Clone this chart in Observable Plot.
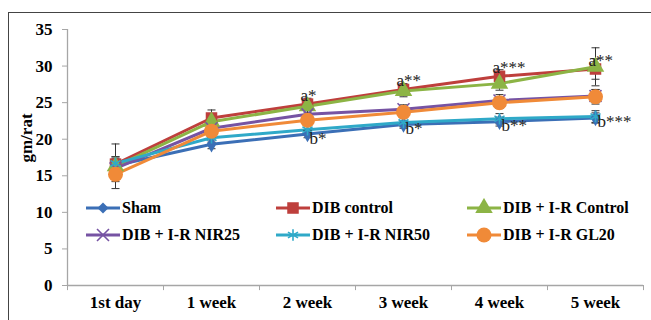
<!DOCTYPE html>
<html>
<head>
<meta charset="utf-8">
<script src="https://cdn.jsdelivr.net/npm/d3@7"></script>
<script src="https://cdn.jsdelivr.net/npm/@observablehq/plot@0.6"></script>
<style>
  body { margin: 0; background: #fff; }
  #wrap { position: relative; width: 651px; height: 320px; overflow: hidden; font-family: "Liberation Serif", "Times New Roman", serif; }
  #border { position: absolute; left: 8px; top: 12px; width: 700px; height: 400px; border-left: 1px solid #444; border-top: 1px solid #444; }
  .leg { position: absolute; display: flex; align-items: center; font-weight: bold; font-size: 16px; white-space: nowrap; }
  .leg svg { margin-right: 2px; }
</style>
</head>
<body>
<div id="wrap"><div id="border"></div></div>
<script>
const categories = ["1st day", "1 week", "2 week", "3 week", "4 week", "5 week"];
const seriesNames = ["Sham", "DIB control", "DIB + I-R Control", "DIB + I-R NIR25", "DIB + I-R NIR50", "DIB + I-R GL20"];
const sham        = [16.4, 19.3, 20.7, 22.0, 22.4, 22.9];
const dibControl  = [16.6, 22.9, 24.8, 26.8, 28.6, 29.6];
const dibIrControl= [16.3, 22.4, 24.5, 26.6, 27.6, 29.9];
const nir25       = [16.0, 21.5, 23.4, 24.1, 25.3, 25.9];
const nir50       = [16.7, 20.2, 21.3, 22.3, 22.8, 23.1];
const gl20        = [15.2, 21.1, 22.6, 23.7, 25.0, 25.8];
const shamErr        = [1.0, 0.6, 0.5, 0.5, 0.6, 0.7];
const dibControlErr  = [1.0, 1.1, 0.8, 0.8, 0.9, 1.4];
const dibIrControlErr= [3.05, 1.0, 0.8, 0.8, 0.9, 2.6];
const nir25Err       = [0.8, 0.7, 0.6, 0.6, 0.8, 0.9];
const nir50Err       = [0.9, 0.6, 0.6, 0.6, 0.7, 0.8];
const gl20Err        = [1.0, 0.8, 0.7, 0.6, 0.8, 1.0];
const annotA = [{i: 2, t: "a*"}, {i: 3, t: "a**"}, {i: 4, t: "a***"}, {i: 5, t: "a**"}];
const annotB = [{i: 2, t: "b*"}, {i: 3, t: "b*"}, {i: 4, t: "b**"}, {i: 5, t: "b***"}];
const yTicks = [0, 5, 10, 15, 20, 25, 30, 35];

const values = [sham, dibControl, dibIrControl, nir25, nir50, gl20];
const errors = [shamErr, dibControlErr, dibIrControlErr, nir25Err, nir50Err, gl20Err];
const colors = ["#3b6fb6", "#be3f3c", "#8cb445", "#7653a3", "#2fa9c8", "#f08a38"];
const symbols = ["diamond", "square", "triangle", "times", "asterisk", "circle"];
const radii = [5, 6.5, 6.5, 5.5, 5.5, 7.5];
const d3Sym = {diamond: d3.symbolDiamond2, square: d3.symbolSquare, triangle: d3.symbolTriangle, times: d3.symbolTimes, asterisk: d3.symbolAsterisk, circle: d3.symbolCircle};
const strokeSym = new Set(["times", "asterisk"]);

const font = '"Liberation Serif", "Times New Roman", serif';
const cap = { draw(ctx, size) { const w = Math.sqrt(size / Math.PI); ctx.moveTo(-w, 0); ctx.lineTo(w, 0); } };

const rows = values.map((vals, s) => vals.map((v, i) => ({s, i, v, e: errors[s][i]})));
const bounds = d3.range(categories.length + 1).map(k => k - 0.5);

const marks = [
  Plot.ruleY([0], {stroke: "#a6a6a6", strokeWidth: 1.3}),
  Plot.ruleX([-0.5], {stroke: "#a6a6a6", strokeWidth: 1.3}),
  Plot.ruleX(bounds, {x: d => d, y1: 0, y2: -0.7, stroke: "#a6a6a6"}),
  Plot.axisY(yTicks, {tickSize: 5, tickPadding: 10, stroke: "#a6a6a6", fill: "black", fontSize: 17, fontWeight: "bold", fontFamily: font, label: null}),
  Plot.axisX(d3.range(categories.length), {tickFormat: i => categories[i], tickSize: 0, tickPadding: 10, fill: "black", fontSize: 17, fontWeight: "bold", fontFamily: font, label: null})
];
rows.forEach((data, s) => {
  marks.push(Plot.lineY(data, {x: "i", y: "v", stroke: colors[s], strokeWidth: 3}));
});
rows.forEach((data, s) => {
  marks.push(Plot.ruleX(data, {x: "i", y1: d => d.v - d.e, y2: d => d.v + d.e, stroke: "#333", strokeWidth: 1}));
  marks.push(Plot.dot(data, {x: "i", y: d => d.v + d.e, symbol: cap, r: 4, stroke: "#333", fill: "none", strokeWidth: 1}));
  marks.push(Plot.dot(data, {x: "i", y: d => d.v - d.e, symbol: cap, r: 4, stroke: "#333", fill: "none", strokeWidth: 1}));
});
rows.forEach((data, s) => {
  const sym = symbols[s];
  marks.push(Plot.dot(data, strokeSym.has(sym)
    ? {x: "i", y: "v", symbol: sym, r: radii[s], stroke: colors[s], strokeWidth: 1.6}
    : {x: "i", y: "v", symbol: sym, r: radii[s], fill: colors[s], stroke: "none"}));
});
marks.push(Plot.text(annotA, {x: "i", y: d => dibControl[d.i], text: "t", textAnchor: "start", lineAnchor: "bottom", dx: -7, dy: -3, fontSize: 17, fontFamily: font, fill: "#222"}));
marks.push(Plot.text(annotB, {x: "i", y: d => sham[d.i], text: "t", textAnchor: "start", lineAnchor: "middle", dx: 2, dy: 4, fontSize: 17, fontFamily: font, fill: "#222"}));

const chart = Plot.plot({
  width: 651, height: 320,
  marginLeft: 67, marginRight: 8, marginTop: 29, marginBottom: 35,
  x: {type: "linear", domain: [-0.5, 5.5], axis: null},
  y: {domain: [0, 35], axis: null},
  style: {fontFamily: font, background: "transparent", overflow: "visible"},
  marks
});
chart.style.position = "absolute";
chart.style.left = "0px";
chart.style.top = "0px";

d3.select(chart).append("text")
  .attr("transform", "translate(32,138) rotate(-90)")
  .attr("text-anchor", "middle")
  .attr("font-family", font).attr("font-size", 17).attr("font-weight", "bold")
  .attr("fill", "black")
  .text("gm/rat");

const wrap = document.getElementById("wrap");
wrap.appendChild(chart);

const legCols = [86, 276, 467];
const legRows = [208, 235];
seriesNames.forEach((name, s) => {
  const div = document.createElement("div");
  div.className = "leg";
  div.style.left = legCols[s % 3] + "px";
  div.style.top = (legRows[Math.floor(s / 3)] - 10) + "px";
  div.style.height = "20px";
  const svg = d3.create("svg").attr("width", 34).attr("height", 20);
  svg.append("line").attr("x1", 0).attr("x2", 34).attr("y1", 10).attr("y2", 10).attr("stroke", colors[s]).attr("stroke-width", 3);
  const sym = symbols[s];
  const p = svg.append("path").attr("transform", "translate(17,10)")
    .attr("d", d3.symbol(d3Sym[sym], Math.PI * radii[s] * radii[s])());
  if (strokeSym.has(sym)) p.attr("fill", "none").attr("stroke", colors[s]).attr("stroke-width", 1.6);
  else p.attr("fill", colors[s]);
  div.appendChild(svg.node());
  const span = document.createElement("span");
  span.textContent = name;
  div.appendChild(span);
  wrap.appendChild(div);
});
</script>
</body>
</html>
